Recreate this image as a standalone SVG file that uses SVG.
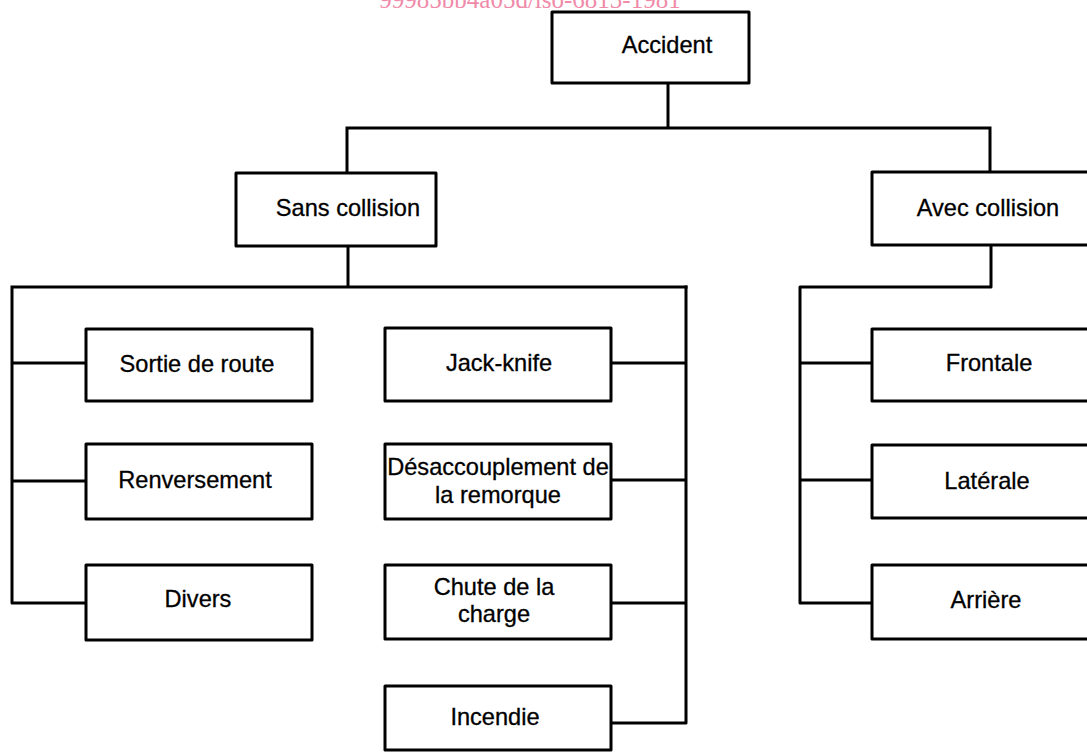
<svg xmlns="http://www.w3.org/2000/svg" width="1087" height="752" viewBox="0 0 1087 752">
<style>
.bg{fill:#ffffff}
.box{fill:#ffffff;stroke:#000;stroke-width:3;stroke-linejoin:round}
.ln{fill:none;stroke:#000;stroke-width:3;stroke-linejoin:round;stroke-linecap:square}
.t{font-family:"Liberation Sans",Arial,sans-serif;font-size:23.6px;fill:#000;text-anchor:middle;stroke:#000;stroke-width:0.3}
.wm{font-family:"Liberation Serif","Times New Roman",serif;font-size:25px;fill:#f08aa9;text-anchor:middle}
</style>
<rect class="bg" x="0" y="0" width="1087" height="752"/>
<text class="wm" x="530" y="8">99985bb4a05d/iso-6813-1981</text>
<g id="connectors">
<path class="ln" d="M668 83 V128 M347 128 H990 M347 128 V173 M990 128 V172"/>
<path class="ln" d="M348 246 V287 M12 287 H686 M12 287 V603 H86 M12 363 H86 M12 481 H86"/>
<path class="ln" d="M686 287 V723 H611 M611 363 H686 M611 480 H686 M611 603 H686"/>
<path class="ln" d="M991 245 V287 H800 V603 H872 M800 363 H872 M800 480 H872"/>
</g>
<g id="n-accident"><rect class="box" x="552" y="12" width="197" height="71"/><text class="t" x="667" y="53">Accident</text></g>
<g id="n-sans"><rect class="box" x="236" y="173" width="200" height="73"/><text class="t" x="348" y="216">Sans collision</text></g>
<g id="n-avec"><rect class="box" x="872" y="172" width="230" height="73"/><text class="t" x="988" y="216">Avec collision</text></g>
<g id="n-sortie"><rect class="box" x="86" y="329" width="226" height="72"/><text class="t" x="197" y="372">Sortie de route</text></g>
<g id="n-renversement"><rect class="box" x="86" y="444" width="226" height="75"/><text class="t" x="195" y="488">Renversement</text></g>
<g id="n-divers"><rect class="box" x="86" y="565" width="226" height="75"/><text class="t" x="198" y="607">Divers</text></g>
<g id="n-jackknife"><rect class="box" x="385" y="328" width="226" height="73"/><text class="t" x="499" y="371">Jack-knife</text></g>
<g id="n-desaccouplement"><rect class="box" x="385" y="444" width="226" height="75"/><text class="t" x="498" y="475">Désaccouplement de</text><text class="t" x="498" y="503">la remorque</text></g>
<g id="n-chute"><rect class="box" x="385" y="565" width="226" height="74"/><text class="t" x="494" y="595">Chute de la</text><text class="t" x="494" y="622">charge</text></g>
<g id="n-incendie"><rect class="box" x="385" y="686" width="226" height="64"/><text class="t" x="495" y="725">Incendie</text></g>
<g id="n-frontale"><rect class="box" x="872" y="329" width="230" height="72"/><text class="t" x="989" y="371">Frontale</text></g>
<g id="n-laterale"><rect class="box" x="872" y="445" width="230" height="73"/><text class="t" x="987" y="489">Latérale</text></g>
<g id="n-arriere"><rect class="box" x="872" y="565" width="230" height="74"/><text class="t" x="986" y="608">Arrière</text></g>
</svg>
